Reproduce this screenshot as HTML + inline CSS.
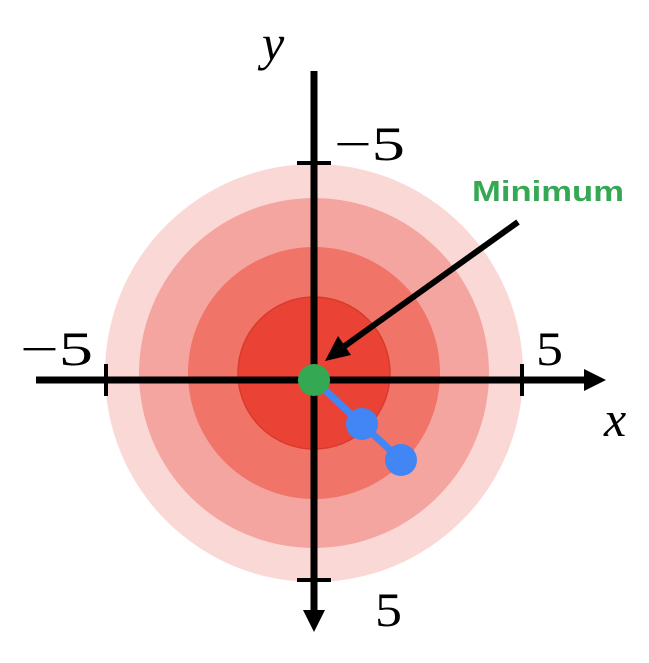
<!DOCTYPE html>
<html><head><style>body{margin:0;background:#fff}</style></head><body>
<svg width="649" height="658" viewBox="0 0 649 658" xmlns="http://www.w3.org/2000/svg">
<circle cx="314" cy="373" r="209" fill="#fad8d5"/>
<circle cx="314" cy="373" r="175" fill="#f5a59f"/>
<circle cx="314" cy="373" r="126" fill="#f07468"/>
<circle cx="314" cy="373" r="76" fill="#ea4335" stroke="#d93a2c" stroke-width="1.5"/>
<line x1="36" y1="380" x2="590" y2="380" stroke="#000" stroke-width="7"/>
<polygon points="606,380 584,369 584,391" fill="#000"/>
<line x1="314" y1="71" x2="314" y2="615" stroke="#000" stroke-width="7"/>
<polygon points="314,632 303,610 325,610" fill="#000"/>
<line x1="297" y1="163" x2="331" y2="163" stroke="#000" stroke-width="4"/>
<line x1="297" y1="580" x2="331" y2="580" stroke="#000" stroke-width="4"/>
<line x1="106" y1="364" x2="106" y2="396" stroke="#000" stroke-width="4"/>
<line x1="522" y1="364" x2="522" y2="396" stroke="#000" stroke-width="4"/>
<line x1="314" y1="380" x2="401" y2="460" stroke="#4285f4" stroke-width="7"/>
<circle cx="362" cy="424" r="16" fill="#4285f4"/>
<circle cx="401" cy="460" r="16" fill="#4285f4"/>
<circle cx="314" cy="380" r="16" fill="#34a853"/>
<line x1="518" y1="222" x2="342" y2="348" stroke="#000" stroke-width="6"/>
<polygon points="325,361 338,336 351,355" fill="#000"/>
<text x="472" y="201" font-family="Liberation Sans, sans-serif" font-weight="bold" font-size="29" fill="#34a853" textLength="152" lengthAdjust="spacingAndGlyphs">Minimum</text>
<text x="262" y="60" font-family="Liberation Serif, serif" font-style="italic" font-size="50">y</text>
<text x="604" y="436" font-family="Liberation Serif, serif" font-style="italic" font-size="50">x</text>
<text x="334" y="160" font-family="Liberation Serif, serif" font-size="48" textLength="71" lengthAdjust="spacingAndGlyphs">−5</text>
<text x="20" y="365" font-family="Liberation Serif, serif" font-size="48" textLength="73" lengthAdjust="spacingAndGlyphs">−5</text>
<text x="536" y="365" font-family="Liberation Serif, serif" font-size="48" textLength="27" lengthAdjust="spacingAndGlyphs">5</text>
<text x="375" y="626" font-family="Liberation Serif, serif" font-size="48" textLength="27" lengthAdjust="spacingAndGlyphs">5</text>
</svg>
</body></html>
